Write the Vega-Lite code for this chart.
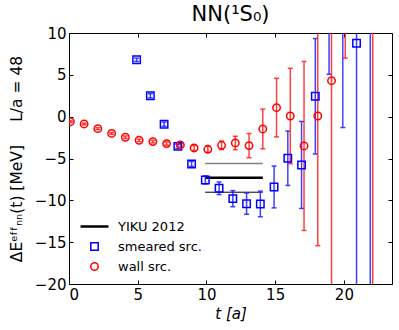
{
  "$schema": "https://vega.github.io/schema/vega-lite/v6.json",
  "width": 323,
  "height": 251,
  "autosize": "none",
  "padding": {"left": 69, "top": 33, "right": 7, "bottom": 46},
  "title": {"text": "NN(¹S₀)", "fontSize": 21, "fontWeight": "normal", "font": "DejaVu Sans", "color": "black", "offset": 1},
  "config": {
    "font": "DejaVu Sans",
    "view": {"stroke": "black", "strokeWidth": 1},
    "axis": {"grid": false, "domain": false, "tickColor": "black", "tickSize": -4, "labelColor": "black", "labelFont": "DejaVu Sans", "labelFontSize": 15, "titleFont": "DejaVu Sans", "titleColor": "black", "titleFontWeight": "normal", "titleFontSize": 14, "labelPadding": 7}
  },
  "datasets": {
    "smeared": [
      {"series": "smeared src.", "t": 4.92, "E": 6.8, "err": 0.2},
      {"series": "smeared src.", "t": 5.92, "E": 2.5, "err": 0.25},
      {"series": "smeared src.", "t": 6.92, "E": -0.9, "err": 0.25},
      {"series": "smeared src.", "t": 7.92, "E": -3.55, "err": 0.25},
      {"series": "smeared src.", "t": 8.92, "E": -5.65, "err": 0.3},
      {"series": "smeared src.", "t": 9.92, "E": -7.56, "err": 0.48},
      {"series": "smeared src.", "t": 10.92, "E": -8.56, "err": 0.75},
      {"series": "smeared src.", "t": 11.92, "E": -9.8, "err": 0.96},
      {"series": "smeared src.", "t": 12.92, "E": -10.4, "err": 1.27},
      {"series": "smeared src.", "t": 13.92, "E": -10.43, "err": 1.53},
      {"series": "smeared src.", "t": 14.92, "E": -8.4, "err": 2.5},
      {"series": "smeared src.", "t": 15.92, "E": -4.97, "err": 3.25},
      {"series": "smeared src.", "t": 16.92, "E": -5.77, "err": 5.2},
      {"series": "smeared src.", "t": 17.92, "E": 2.44, "err": 6.9},
      {"series": "smeared src.", "t": 18.92, "E": 14.0, "err": 8.93},
      {"series": "smeared src.", "t": 19.92, "E": 12.0, "err": 13.3},
      {"series": "smeared src.", "t": 20.92, "E": 8.77, "err": 30},
      {"series": "smeared src.", "t": 21.92, "E": -25, "err": 40}
    ],
    "wall": [
      {"series": "wall src.", "t": 0.1, "E": -0.6, "err": 0.1},
      {"series": "wall src.", "t": 1.1, "E": -0.87, "err": 0.1},
      {"series": "wall src.", "t": 2.1, "E": -1.43, "err": 0.12},
      {"series": "wall src.", "t": 3.1, "E": -2.0, "err": 0.12},
      {"series": "wall src.", "t": 4.1, "E": -2.46, "err": 0.15},
      {"series": "wall src.", "t": 5.1, "E": -2.82, "err": 0.15},
      {"series": "wall src.", "t": 6.1, "E": -2.98, "err": 0.15},
      {"series": "wall src.", "t": 7.1, "E": -3.22, "err": 0.2},
      {"series": "wall src.", "t": 8.1, "E": -3.38, "err": 0.25},
      {"series": "wall src.", "t": 9.1, "E": -3.74, "err": 0.3},
      {"series": "wall src.", "t": 10.1, "E": -3.9, "err": 0.35},
      {"series": "wall src.", "t": 11.1, "E": -3.42, "err": 0.5},
      {"series": "wall src.", "t": 12.1, "E": -3.14, "err": 0.8},
      {"series": "wall src.", "t": 13.1, "E": -3.46, "err": 1.45},
      {"series": "wall src.", "t": 14.1, "E": -1.47, "err": 2.37},
      {"series": "wall src.", "t": 15.1, "E": 1.08, "err": 3.5},
      {"series": "wall src.", "t": 16.1, "E": 0.08, "err": 5.7},
      {"series": "wall src.", "t": 17.1, "E": -3.5, "err": 10.1},
      {"series": "wall src.", "t": 18.1, "E": 0.08, "err": 15.5},
      {"series": "wall src.", "t": 19.1, "E": 4.3, "err": 30},
      {"series": "wall src.", "t": 20.1, "E": 14.0, "err": 7.0},
      {"series": "wall src.", "t": 22.1, "E": -28, "err": 45}
    ],
    "yiku": [
      {"band": "upper", "t0": 9.9, "t1": 14.1, "E": -5.6},
      {"band": "central", "t0": 9.9, "t1": 14.1, "E": -7.3},
      {"band": "lower", "t0": 9.9, "t1": 14.1, "E": -9.03}
    ]
  },
  "layer": [
    {
      "mark": {"type": "rule", "color": "black", "strokeWidth": 1},
      "encoding": {"y": {"datum": 0, "type": "quantitative", "scale": {"domain": [-20, 10], "nice": false, "zero": false}, "axis": null}}
    },
    {
      "data": {"name": "yiku"},
      "transform": [{"filter": "datum.band === 'upper'"}],
      "mark": {"type": "rule", "color": "#808080", "strokeWidth": 1.5},
      "encoding": {
        "x": {"field": "t0", "type": "quantitative", "scale": {"domain": [0, 23.5], "nice": false, "zero": false}, "axis": null},
        "x2": {"field": "t1"},
        "y": {"field": "E", "type": "quantitative", "scale": {"domain": [-20, 10], "nice": false, "zero": false}, "axis": null}
      }
    },
    {
      "data": {"name": "yiku"},
      "transform": [{"filter": "datum.band === 'central'"}],
      "mark": {"type": "rule", "color": "black", "strokeWidth": 2.5},
      "encoding": {
        "x": {"field": "t0", "type": "quantitative", "scale": {"domain": [0, 23.5], "nice": false, "zero": false}, "axis": null},
        "x2": {"field": "t1"},
        "y": {"field": "E", "type": "quantitative", "scale": {"domain": [-20, 10], "nice": false, "zero": false}, "axis": null}
      }
    },
    {
      "data": {"name": "yiku"},
      "transform": [{"filter": "datum.band === 'lower'"}],
      "mark": {"type": "rule", "color": "black", "strokeWidth": 1},
      "encoding": {
        "x": {"field": "t0", "type": "quantitative", "scale": {"domain": [0, 23.5], "nice": false, "zero": false}, "axis": null},
        "x2": {"field": "t1"},
        "y": {"field": "E", "type": "quantitative", "scale": {"domain": [-20, 10], "nice": false, "zero": false}, "axis": null}
      }
    },
    {
      "data": {"name": "smeared"},
      "mark": {"type": "errorbar", "clip": true, "color": "#2020ff", "opacity": 0.85, "ticks": {"size": 5, "thickness": 1.5}, "rule": {"strokeWidth": 1.5}},
      "encoding": {
        "x": {"field": "t", "type": "quantitative", "scale": {"domain": [0, 23.5], "nice": false, "zero": false}, "axis": null},
        "y": {"field": "E", "type": "quantitative", "scale": {"domain": [-20, 10], "nice": false, "zero": false}, "axis": null},
        "yError": {"field": "err"}
      }
    },
    {
      "data": {"name": "wall"},
      "mark": {"type": "errorbar", "clip": true, "color": "#ff2020", "opacity": 0.85, "ticks": {"size": 5, "thickness": 1.5}, "rule": {"strokeWidth": 1.5}},
      "encoding": {
        "x": {"field": "t", "type": "quantitative", "scale": {"domain": [0, 23.5], "nice": false, "zero": false}, "axis": null},
        "y": {"field": "E", "type": "quantitative", "scale": {"domain": [-20, 10], "nice": false, "zero": false}, "axis": null},
        "yError": {"field": "err"}
      }
    },
    {
      "data": {"name": "smeared"},
      "mark": {"type": "point", "filled": false, "clip": true, "opacity": 1},
      "encoding": {
        "x": {"field": "t", "type": "quantitative", "scale": {"domain": [0, 23.5], "nice": false, "zero": false}, "axis": {"orient": "bottom", "values": [0, 5, 10, 15, 20], "title": "t [a]", "titleFontStyle": "italic", "titleFontSize": 15, "titlePadding": 4}},
        "y": {"field": "E", "type": "quantitative", "scale": {"domain": [-20, 10], "nice": false, "zero": false}, "axis": {"orient": "left", "values": [-20, -15, -10, -5, 0, 5, 10], "title": "ΔEᵉᶠᶠₙₙ(t) [MeV]\u2003\u2002L/a = 48", "titleFontSize": 15.5, "titlePadding": 10}},
        "color": {"field": "series", "type": "nominal", "scale": {"domain": ["YIKU 2012", "smeared src.", "wall src."], "range": ["black", "blue", "red"]}, "legend": {"title": null, "orient": "none", "legendX": 10, "legendY": 178, "padding": 0, "labelFontSize": 13, "labelColor": "black", "labelOffset": 8, "rowPadding": 5}},
        "shape": {"field": "series", "type": "nominal", "scale": {"domain": ["YIKU 2012", "smeared src.", "wall src."], "range": ["stroke", "square", "circle"]}},
        "size": {"field": "series", "type": "nominal", "scale": {"type": "ordinal", "domain": ["YIKU 2012", "smeared src.", "wall src."], "range": [784, 55, 55]}},
        "strokeWidth": {"field": "series", "type": "nominal", "scale": {"type": "ordinal", "domain": ["YIKU 2012", "smeared src.", "wall src."], "range": [2.5, 1.5, 1.5]}}
      }
    },
    {
      "data": {"name": "wall"},
      "mark": {"type": "point", "filled": false, "clip": true, "opacity": 1},
      "encoding": {
        "x": {"field": "t", "type": "quantitative", "scale": {"domain": [0, 23.5], "nice": false, "zero": false}, "axis": {"orient": "top", "values": [0, 5, 10, 15, 20], "labels": false, "title": null}},
        "y": {"field": "E", "type": "quantitative", "scale": {"domain": [-20, 10], "nice": false, "zero": false}, "axis": {"orient": "right", "values": [-20, -15, -10, -5, 0, 5, 10], "labels": false, "title": null}},
        "color": {"field": "series", "type": "nominal", "scale": {"domain": ["YIKU 2012", "smeared src.", "wall src."], "range": ["black", "blue", "red"]}},
        "shape": {"field": "series", "type": "nominal", "scale": {"domain": ["YIKU 2012", "smeared src.", "wall src."], "range": ["stroke", "square", "circle"]}},
        "size": {"field": "series", "type": "nominal", "scale": {"type": "ordinal", "domain": ["YIKU 2012", "smeared src.", "wall src."], "range": [784, 55, 55]}},
        "strokeWidth": {"field": "series", "type": "nominal", "scale": {"type": "ordinal", "domain": ["YIKU 2012", "smeared src.", "wall src."], "range": [2.5, 1.5, 1.5]}}
      }
    }
  ],
  "resolve": {"axis": {"x": "independent", "y": "independent"}}
}
